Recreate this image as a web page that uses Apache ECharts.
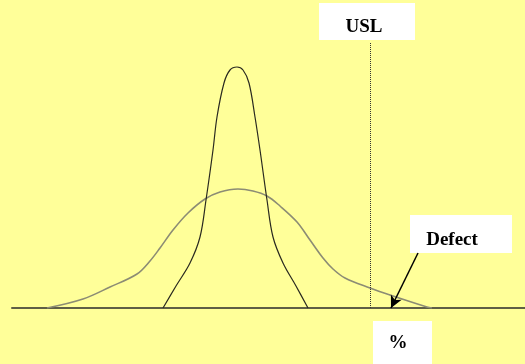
<!DOCTYPE html>
<html>
<head>
<meta charset="utf-8">
<script src="https://cdn.jsdelivr.net/npm/echarts@6/dist/echarts.min.js"></script>
<style>html,body{margin:0;padding:0;background:#FFFF99;}#c{width:525px;height:364px;}</style>
</head>
<body>
<div id="c"></div>
<script>
// Wide (gray) distribution: x positions and heights above the baseline
var wideX = [47, 83, 110, 137, 150, 160, 173, 188, 205, 220, 238, 253, 267, 280, 297, 310, 323, 333, 345, 370, 390, 427, 432];
var wideY = [0, 9, 21, 34, 47, 60, 78, 95, 109, 116, 119, 117, 112, 102, 86, 68, 50, 39, 30, 20, 13, 1, 0];
// Narrow (black) distribution
var narrowX = [163, 176, 190, 200, 206, 213, 217, 224, 230, 237, 243, 249, 255, 260, 267, 273, 283, 296, 308];
var narrowY = [0, 22, 45, 71, 108, 158, 191, 225, 238, 241, 238, 225, 191, 158, 108, 71, 45, 22, 0];
// Specification limit and labels
var uslX = 370.7;
var uslTop = 266;
var defectArrow = [[418, 55], [391, 0]];
var labels = { usl: 'USL', defect: 'Defect', unit: '%' };

function zip(xs, ys) { return xs.map(function (x, i) { return [x, ys[i]]; }); }

var chart = echarts.init(document.getElementById('c'));
var font = 'bold 19px "Liberation Serif", "Times New Roman", serif';
function box(x, y, w, h, text, tx, ty) {
  return {
    type: 'group',
    children: [
      { type: 'rect', shape: { x: x, y: y, width: w, height: h }, style: { fill: '#ffffff' } },
      { type: 'text', x: tx, y: ty, style: { text: text, font: font, fill: '#000', align: 'center', verticalAlign: 'middle' } }
    ]
  };
}
chart.setOption({
  backgroundColor: '#FFFF99',
  animation: false,
  grid: { left: 12, right: 0, top: 0, bottom: 56 },
  xAxis: {
    type: 'value', min: 12, max: 525,
    axisLine: { show: true, lineStyle: { color: '#5f5f45', width: 2 } },
    axisTick: { show: false }, axisLabel: { show: false }, splitLine: { show: false }
  },
  yAxis: {
    type: 'value', min: 0, max: 308, show: false, splitLine: { show: false }
  },
  series: [
    {
      type: 'line', data: zip(wideX, wideY), smooth: 0.35, symbol: 'none',
      lineStyle: { color: '#8c8c74', width: 1.6 }, z: 2
    },
    {
      type: 'line', data: zip(narrowX, narrowY), smooth: 0.35, symbol: 'none',
      lineStyle: { color: '#2a2a20', width: 1.2 }, z: 3,
      markLine: {
        silent: true, symbol: 'none', label: { show: false },
        data: [
          [{ coord: [uslX, 0], lineStyle: { type: 'dotted', color: '#333', width: 1 } }, { coord: [uslX, uslTop] }],
          [{ coord: defectArrow[0], symbol: 'none', lineStyle: { type: 'solid', color: '#000', width: 1.5 } },
           { coord: defectArrow[1], symbol: 'arrow', symbolSize: [9, 12] }]
        ]
      }
    }
  ],
  graphic: [
    box(319, 3, 96, 37, labels.usl, 364, 27),
    box(410, 215, 102, 38, labels.defect, 452, 240),
    box(373, 321, 59, 43, labels.unit, 398, 343)
  ]
});
</script>
</body>
</html>
